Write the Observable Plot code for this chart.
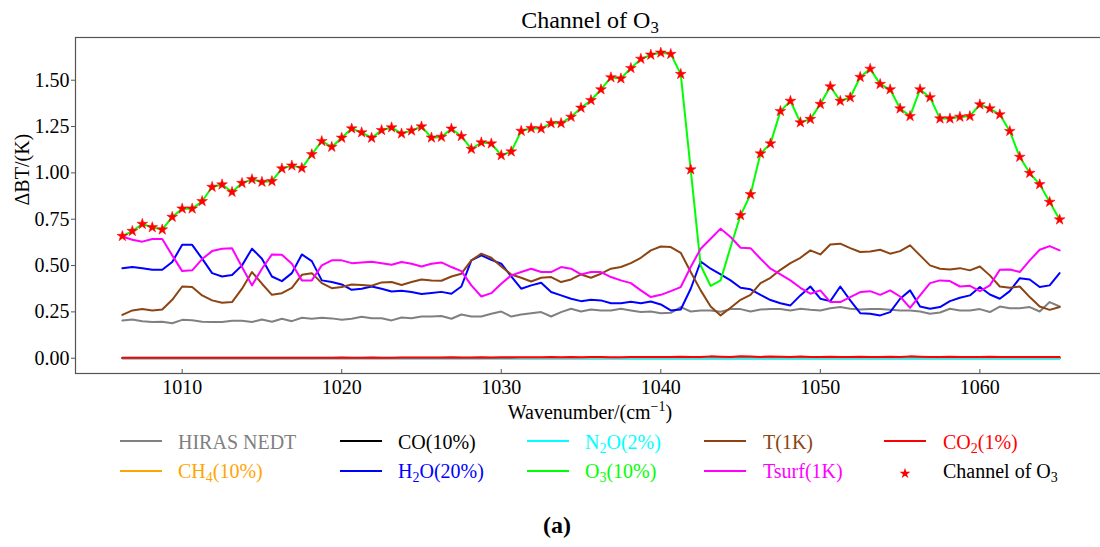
<!DOCTYPE html>
<html><head><meta charset="utf-8">
<script src="https://cdn.jsdelivr.net/npm/d3@7"></script>
<script src="https://cdn.jsdelivr.net/npm/@observablehq/plot@0.6"></script>
<style>
body{margin:0;background:#fff;}
#fig{position:relative;width:1100px;height:547px;font-family:"Liberation Serif","Times New Roman",serif;color:#000;overflow:hidden;background:#fff;}
#title{position:absolute;left:390px;width:400px;top:7px;text-align:center;font-size:24px;line-height:26px;}
sub{font-size:0.7em;vertical-align:-0.3em;line-height:0;}
sup{font-size:0.7em;vertical-align:0.55em;line-height:0;}
#chart{position:absolute;left:0;top:33px;}
#chart svg, #chart svg text{font-family:"Liberation Serif","Times New Roman",serif !important;}
#xlabel{position:absolute;left:390px;width:400px;top:400px;text-align:center;font-size:20px;line-height:24px;}
.lg-line{position:absolute;height:0;border-top:2px solid;width:42px;}
.lg-text{position:absolute;font-size:20px;line-height:24px;white-space:nowrap;}
.lg-star{position:absolute;}
#cap{position:absolute;left:507px;width:100px;top:511px;text-align:center;font-size:24px;font-weight:bold;line-height:28px;}
</style></head>
<body>
<div id="fig">
  <div id="title">Channel of O<sub>3</sub></div>
  <div id="chart"></div>
  <div id="xlabel">Wavenumber/(cm<sup>−1</sup>)</div>
  <div id="legend"></div>
  <div id="cap">(a)</div>
</div>
<script>
const wavenumber = [1006.25,1006.875,1007.5,1008.125,1008.75,1009.375,1010,1010.625,1011.25,1011.875,
 1012.5,1013.125,1013.75,1014.375,1015,1015.625,1016.25,1016.875,1017.5,1018.125,
 1018.75,1019.375,1020,1020.625,1021.25,1021.875,1022.5,1023.125,1023.75,1024.375,
 1025,1025.625,1026.25,1026.875,1027.5,1028.125,1028.75,1029.375,1030,1030.625,
 1031.25,1031.875,1032.5,1033.125,1033.75,1034.375,1035,1035.625,1036.25,1036.875,
 1037.5,1038.125,1038.75,1039.375,1040,1040.625,1041.25,1041.875,1042.5,1043.125,
 1043.75,1044.375,1045,1045.625,1046.25,1046.875,1047.5,1048.125,1048.75,1049.375,
 1050,1050.625,1051.25,1051.875,1052.5,1053.125,1053.75,1054.375,1055,1055.625,
 1056.25,1056.875,1057.5,1058.125,1058.75,1059.375,1060,1060.625,1061.25,1061.875,
 1062.5,1063.125,1063.75,1064.375,1065];

const hirasNedt = [0.204,0.209,0.200,0.195,0.197,0.189,0.207,0.205,0.197,0.195,
 0.195,0.202,0.202,0.195,0.209,0.197,0.213,0.200,0.218,0.213,
 0.218,0.215,0.207,0.213,0.224,0.216,0.216,0.204,0.220,0.216,
 0.225,0.225,0.228,0.213,0.236,0.225,0.225,0.240,0.252,0.225,
 0.236,0.243,0.249,0.225,0.249,0.267,0.252,0.263,0.258,0.258,
 0.267,0.258,0.249,0.252,0.243,0.245,0.276,0.252,0.258,0.258,
 0.251,0.265,0.265,0.252,0.263,0.265,0.265,0.258,0.267,0.261,
 0.258,0.270,0.276,0.267,0.263,0.265,0.265,0.261,0.258,0.258,
 0.252,0.240,0.247,0.267,0.258,0.258,0.265,0.249,0.279,0.270,
 0.270,0.276,0.252,0.303,0.279];

const ch4 = [0.001,0.001,0.001,0.001,0.001,0.001,0.001,0.001,0.001,0.001,
 0.001,0.001,0.001,0.001,0.001,0.001,0.001,0.001,0.001,0.001,
 0.001,0.001,0.001,0.001,0.001,0.001,0.001,0.001,0.001,0.001,
 0.001,0.001,0.001,0.001,0.001,0.001,0.001,0.001,0.001,0.001,
 0.001,0.001,0.001,0.001,0.001,0.001,0.001,0.001,0.001,0.001,
 0.001,0.001,0.001,0.001,0.001,0.001,0.001,0.001,0.001,0.001,
 0.001,0.001,0.001,0.001,0.001,0.001,0.001,0.001,0.001,0.001,
 0.001,0.001,0.001,0.001,0.001,0.001,0.001,0.001,0.001,0.001,
 0.001,0.001,0.001,0.001,0.001,0.001,0.001,0.001,0.001,0.001,
 0.001,0.001,0.001,0.001,0.001];

const co = [0,0,0,0,0,0,0,0,0,0, 0,0,0,0,0,0,0,0,0,0, 0,0,0,0,0,0,0,0,0,0,
 0,0,0,0,0,0,0,0,0,0, 0,0,0,0,0,0,0,0,0,0, 0,0,0,0,0,0,0,0,0,0,
 0,0,0,0,0,0,0,0,0,0, 0,0,0,0,0,0,0,0,0,0, 0,0,0,0,0,0,0,0,0,0, 0,0,0,0,0];

const h2o = [0.486,0.492,0.486,0.477,0.477,0.519,0.612,0.612,0.537,0.459,
 0.441,0.449,0.501,0.591,0.537,0.441,0.416,0.459,0.560,0.524,
 0.420,0.411,0.398,0.369,0.375,0.387,0.375,0.360,0.364,0.357,
 0.347,0.352,0.358,0.348,0.387,0.528,0.555,0.531,0.510,0.441,
 0.375,0.393,0.407,0.357,0.339,0.321,0.308,0.315,0.312,0.297,
 0.297,0.305,0.297,0.306,0.290,0.258,0.263,0.375,0.522,0.483,
 0.452,0.420,0.380,0.372,0.342,0.314,0.297,0.285,0.339,0.387,
 0.321,0.308,0.387,0.312,0.243,0.240,0.231,0.249,0.321,0.366,
 0.279,0.267,0.276,0.308,0.326,0.339,0.384,0.344,0.321,0.362,
 0.432,0.425,0.384,0.393,0.459];

const n2o = [0.003,0.003,0.003,0.003,0.003,0.003,0.003,0.003,0.003,0.003,
 0.003,0.003,0.003,0.003,0.003,0.003,0.003,0.003,0.003,0.003,
 0.003,0.003,0.003,0.003,0.003,0.003,0.003,0.003,0.003,0.003,
 0.003,0.003,0.003,0.003,0.003,0.003,0.003,0.003,0.003,0.002,
 0.001,0.001,0.001,0.001,0.001,0.001,0.001,0.001,0.001,0.001,
 0.000,0.000,0.000,0.000,0.000,0.000,0.000,0.000,0.000,0.000,
 0.000,0.000,0.000,0.000,0.000,0.000,0.000,0.000,0.000,0.000,
 0.000,0.000,0.000,0.000,0.000,0.000,0.000,0.000,0.000,0.000,
 0.000,0.000,0.000,0.000,0.000,0.000,0.000,0.000,0.000,0.000,
 0.000,0.000,0.000,0.000,0.000];

const o3 = [0.659,0.686,0.724,0.706,0.694,0.762,0.807,0.807,0.847,0.924,
 0.937,0.897,0.945,0.965,0.951,0.955,1.023,1.039,1.026,1.100,
 1.171,1.140,1.189,1.239,1.218,1.189,1.230,1.245,1.212,1.228,
 1.250,1.190,1.194,1.238,1.198,1.129,1.164,1.158,1.095,1.115,
 1.226,1.241,1.239,1.268,1.268,1.302,1.351,1.392,1.450,1.515,
 1.509,1.565,1.615,1.637,1.648,1.641,1.533,1.018,0.500,0.390,
 0.420,0.600,0.771,0.884,1.104,1.158,1.333,1.388,1.272,1.290,
 1.371,1.466,1.388,1.407,1.517,1.561,1.479,1.450,1.347,1.306,
 1.450,1.407,1.293,1.293,1.302,1.306,1.369,1.347,1.315,1.225,
 1.086,0.999,0.938,0.843,0.748];

const tProfile = [0.234,0.258,0.265,0.258,0.263,0.315,0.387,0.384,0.339,0.312,
 0.299,0.303,0.375,0.465,0.402,0.342,0.351,0.380,0.450,0.459,
 0.405,0.378,0.384,0.398,0.395,0.391,0.409,0.411,0.395,0.411,
 0.425,0.420,0.418,0.441,0.456,0.528,0.564,0.542,0.495,0.452,
 0.434,0.414,0.434,0.438,0.411,0.425,0.452,0.434,0.456,0.483,
 0.492,0.513,0.542,0.582,0.603,0.600,0.569,0.465,0.366,0.279,
 0.231,0.272,0.315,0.342,0.405,0.434,0.477,0.513,0.542,0.582,
 0.560,0.614,0.618,0.594,0.573,0.576,0.585,0.564,0.578,0.609,
 0.555,0.501,0.483,0.479,0.486,0.474,0.495,0.447,0.387,0.380,
 0.387,0.330,0.279,0.261,0.276];

const tsurf = [0.657,0.639,0.629,0.643,0.643,0.555,0.470,0.474,0.535,0.578,
 0.591,0.593,0.492,0.393,0.483,0.560,0.558,0.510,0.420,0.420,
 0.501,0.528,0.528,0.513,0.517,0.521,0.513,0.504,0.519,0.510,
 0.495,0.510,0.517,0.492,0.470,0.393,0.333,0.351,0.402,0.447,
 0.465,0.483,0.465,0.465,0.492,0.483,0.452,0.465,0.465,0.438,
 0.420,0.405,0.366,0.330,0.342,0.362,0.384,0.492,0.591,0.645,
 0.699,0.654,0.596,0.594,0.537,0.483,0.452,0.420,0.380,0.348,
 0.366,0.303,0.303,0.330,0.357,0.362,0.342,0.366,0.333,0.272,
 0.339,0.405,0.420,0.416,0.387,0.391,0.362,0.393,0.477,0.479,
 0.465,0.528,0.585,0.605,0.582];

const co2 = [0.003,0.003,0.003,0.003,0.003,0.003,0.003,0.003,0.003,0.003,
 0.003,0.003,0.003,0.003,0.003,0.003,0.003,0.003,0.003,0.003,
 0.003,0.003,0.004,0.003,0.003,0.004,0.003,0.003,0.004,0.004,
 0.004,0.004,0.004,0.005,0.004,0.004,0.005,0.004,0.005,0.005,
 0.005,0.005,0.005,0.006,0.005,0.006,0.005,0.006,0.006,0.005,
 0.005,0.006,0.006,0.007,0.006,0.006,0.008,0.007,0.007,0.010,
 0.008,0.007,0.011,0.009,0.007,0.009,0.008,0.007,0.009,0.007,
 0.007,0.008,0.007,0.007,0.008,0.007,0.007,0.008,0.007,0.010,
 0.008,0.007,0.007,0.008,0.007,0.007,0.007,0.008,0.007,0.007,
 0.007,0.007,0.007,0.007,0.007];

// channels on the O3 curve that are not marked as selected channels
const o3GapChannels = [1042.5, 1043.125, 1043.75, 1044.375];

const xTicks = [1010, 1020, 1030, 1040, 1050, 1060];
const yTicks = [0, 0.25, 0.5, 0.75, 1.0, 1.25, 1.5];

const seriesList = [
  {name: "HIRAS NEDT", label: "HIRAS NEDT", color: "#808080", values: hirasNedt},
  {name: "CH4(10%)", label: "CH<sub>4</sub>(10%)", color: "#FFA500", values: ch4},
  {name: "CO(10%)", label: "CO(10%)", color: "#000000", values: co},
  {name: "H2O(20%)", label: "H<sub>2</sub>O(20%)", color: "#0000FF", values: h2o},
  {name: "N2O(2%)", label: "N<sub>2</sub>O(2%)", color: "#00FFFF", values: n2o},
  {name: "O3(10%)", label: "O<sub>3</sub>(10%)", color: "#00FF00", values: o3},
  {name: "T(1K)", label: "T(1K)", color: "#8B4513", values: tProfile},
  {name: "Tsurf(1K)", label: "Tsurf(1K)", color: "#FF00FF", values: tsurf},
  {name: "CO2(1%)", label: "CO<sub>2</sub>(1%)", color: "#FF0000", values: co2}
];
const starLabel = "Channel of O<sub>3</sub>";
const starColor = "#FF0000";

const rows = seriesList.flatMap(s => wavenumber.map((x, i) => ({series: s.name, x, y: s.values[i]})));
const starRows = wavenumber.map((x, i) => ({x, y: o3[i]})).filter(d => !o3GapChannels.includes(d.x));

const xmin = d3.min(wavenumber), xmax = d3.max(wavenumber);
const xpad = 0.05 * (xmax - xmin);
const allY = seriesList.flatMap(s => s.values);
const ymin = d3.min(allY), ymax = d3.max(allY);
const ypad = 0.05 * (ymax - ymin);

const chart = Plot.plot({
  width: 1100, height: 367,
  marginTop: 4, marginBottom: 27, marginLeft: 75, marginRight: -6,
  style: {fontFamily: '"Liberation Serif","Times New Roman",serif', fontSize: "20px", color: "#000", background: "transparent", overflow: "visible"},
  x: {domain: [xmin - xpad, xmax + xpad]},
  y: {domain: [ymin - ypad, ymax + ypad]},
  marks: [
    ...seriesList.map(s => Plot.line(rows.filter(r => r.series === s.name), {x: "x", y: "y", stroke: s.color, strokeWidth: 2})),
    Plot.dot(starRows, {x: "x", y: "y", symbol: "star", fill: starColor, stroke: starColor, strokeWidth: 0.5, r: 3.4}),
    Plot.frame({stroke: "#555", strokeWidth: 1.2}),
    Plot.axisY({ticks: yTicks, tickSize: 4, tickPadding: 2, tickFormat: d3.format(".2f"), label: null, stroke: "#555", fill: "#000", fontSize: 20}),
    Plot.axisX({ticks: xTicks, tickSize: -4, tickFormat: () => "", label: null, stroke: "#555"}),
    Plot.axisX({ticks: xTicks, tickSize: 0, tickPadding: 6, tickFormat: d3.format("d"), label: null, fill: "#000", fontSize: 20}),
    Plot.text(["ΔBT/(K)"], {frameAnchor: "left", dx: -53, rotate: -90, fontSize: 20, fill: "#000"})
  ]
});
document.getElementById("chart").appendChild(chart);

// legend (matplotlib ncol=5, filled column by column)
const legendLineX = [120, 340, 527, 704, 884];
const legendTextX = [178, 398, 585, 763, 943];
const legendRowY = [441, 470.5];
const legend = document.getElementById("legend");
const entries = [...seriesList.map(s => ({label: s.label, color: s.color, kind: "line"})),
                 {label: starLabel, color: starColor, kind: "star"}];
entries.forEach((e, i) => {
  const col = Math.floor(i / 2), row = i % 2;
  const cy = legendRowY[row];
  if (e.kind === "line") {
    const l = document.createElement("div");
    l.className = "lg-line";
    l.style.left = legendLineX[col] + "px";
    l.style.top = (cy - 1) + "px";
    l.style.borderTopColor = e.color;
    legend.appendChild(l);
  } else {
    const ns = "http://www.w3.org/2000/svg";
    const svg = document.createElementNS(ns, "svg");
    svg.setAttribute("width", 16); svg.setAttribute("height", 16);
    svg.setAttribute("class", "lg-star");
    svg.style.left = (legendLineX[col] + 21 - 8) + "px";
    svg.style.top = (cy - 6) + "px";
    const p = document.createElementNS(ns, "path");
    p.setAttribute("d", d3.symbol(d3.symbolStar, 36)());
    p.setAttribute("transform", "translate(8,8.5)");
    p.setAttribute("fill", e.color);
    svg.appendChild(p);
    legend.appendChild(svg);
  }
  const t = document.createElement("div");
  t.className = "lg-text";
  t.style.left = legendTextX[col] + "px";
  t.style.top = (cy + 7.5 - 18.75) + "px";
  t.style.color = e.kind === "star" ? "#000" : e.color;
  t.innerHTML = e.label;
  legend.appendChild(t);
});
</script>
</body></html>
